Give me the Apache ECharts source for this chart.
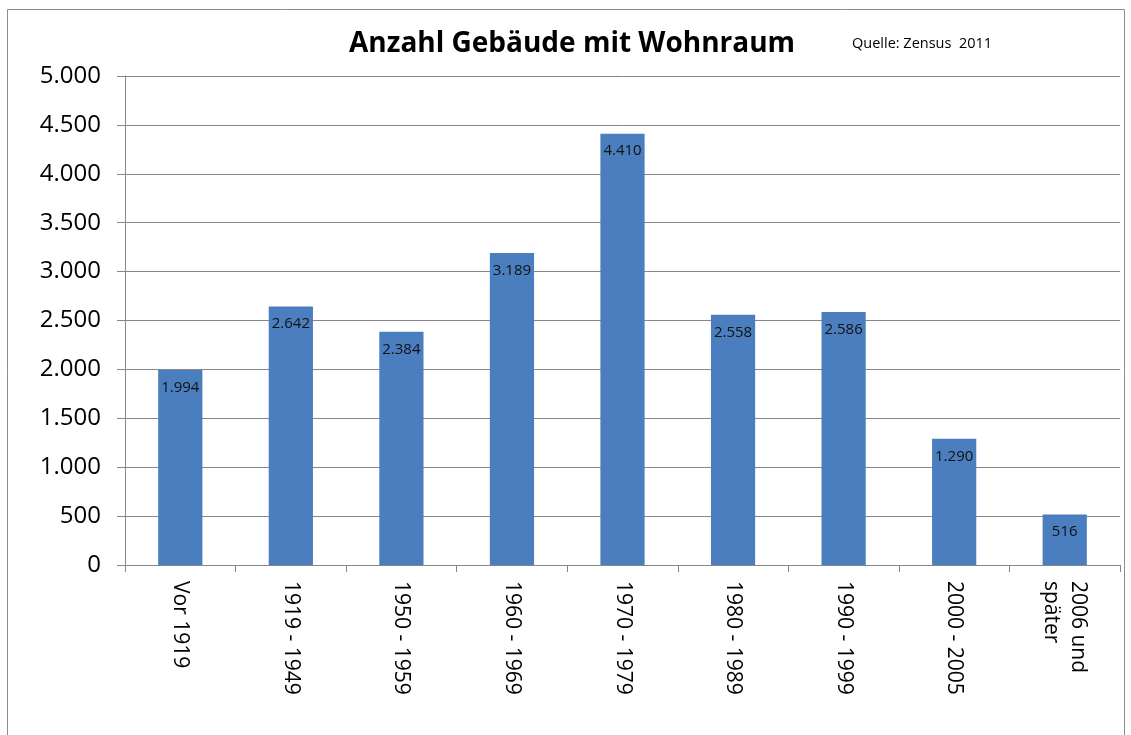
<!DOCTYPE html>
<html>
<head>
<meta charset="utf-8">
<script src="https://cdn.jsdelivr.net/npm/echarts@6/dist/echarts.min.js"></script>
<style>
  html, body { margin: 0; padding: 0; background: #fff; }
  #chart { width: 1131px; height: 735px; }
</style>
</head>
<body>
<div id="chart"></div>
<script>
var categories = ["Vor 1919", "1919 - 1949", "1950 - 1959", "1960 - 1969", "1970 - 1979",
                  "1980 - 1989", "1990 - 1999", "2000 - 2005", "2006 und\nspäter"];
var gebaeude = [1994, 2642, 2384, 3189, 4410, 2558, 2586, 1290, 516];
var yMax = 5000;
var yStep = 500;

// deutsche Tausenderpunkte
function fmt(v) {
    return String(v).replace(/\B(?=(\d{3})+(?!\d))/g, ".");
}

var chart = echarts.init(document.getElementById('chart'));
var font = "'Open Sans', 'Liberation Sans', sans-serif";

chart.setOption({
    animation: false,
    textStyle: { fontFamily: font },
    graphic: [
        {
            type: "rect",
            shape: { x: 7.5, y: 9.5, width: 1117, height: 740 },
            style: { fill: "none", stroke: "#8c8c8c", lineWidth: 1 }
        },
        {
            type: "text",
            left: 349,
            top: 30,
            style: { text: "Anzahl Gebäude mit Wohnraum", font: "bold 28px " + font, fill: "#000" }
        },
        {
            type: "text",
            left: 852,
            top: 36,
            style: { text: "Quelle: Zensus  2011", font: "14.5px " + font, fill: "#000" }
        }
    ],
    grid: { left: 125, right: 11, top: 76, bottom: 170 },
    xAxis: {
        type: "category",
        data: categories,
        axisLine: { lineStyle: { color: "#868686", width: 1 } },
        axisTick: { show: true, length: 7, lineStyle: { color: "#868686" } },
        axisLabel: {
            rotate: -90,
            interval: 0,
            margin: 16,
            fontSize: 21,
            color: "#000",
            lineHeight: 27
        }
    },
    yAxis: {
        type: "value",
        min: 0,
        max: yMax,
        interval: yStep,
        axisLine: { show: true, lineStyle: { color: "#868686", width: 1 } },
        axisTick: { show: true, length: 8, lineStyle: { color: "#868686" } },
        splitLine: { lineStyle: { color: "#868686", width: 1 } },
        axisLabel: {
            fontSize: 24,
            color: "#000",
            margin: 24,
            formatter: function (v) { return fmt(v); }
        }
    },
    series: [
        {
            type: "bar",
            data: gebaeude,
            barWidth: "40%",
            itemStyle: { color: "#4a7ebf" },
            label: {
                show: true,
                position: "insideTop",
                distance: 10,
                fontSize: 15,
                color: "#111",
                formatter: function (p) { return fmt(p.value); }
            }
        }
    ]
});
</script>
</body>
</html>
